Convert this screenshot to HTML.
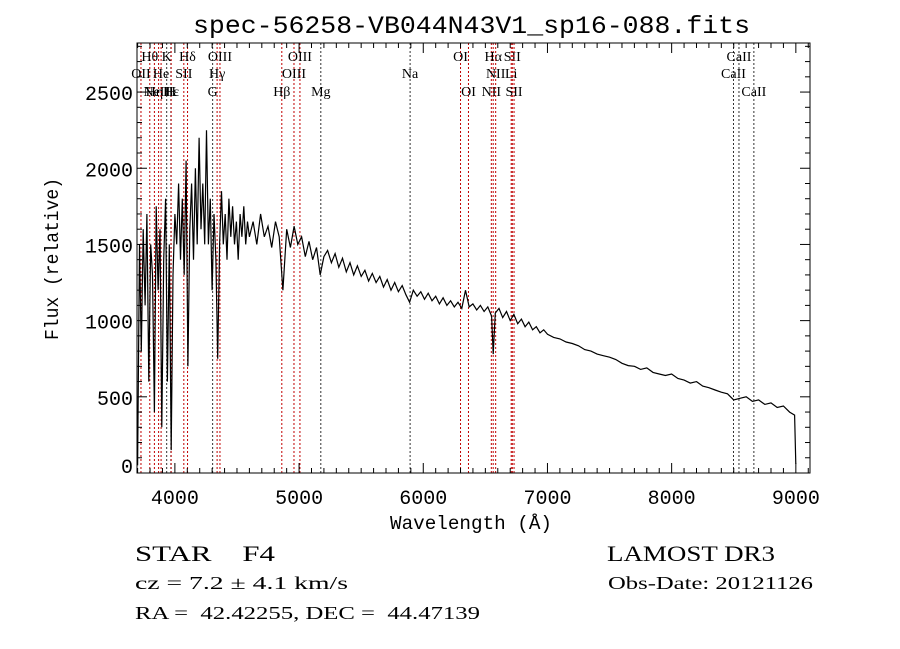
<!DOCTYPE html>
<html><head><meta charset="utf-8"><style>
html,body{margin:0;padding:0;background:#fff;}
svg{display:block;}
text{font-family:"Liberation Serif",serif;fill:#000;white-space:pre;}
.mono{font-family:"Liberation Mono",monospace;}
</style></head><body>
<svg id="chart" width="900" height="649" viewBox="0 0 900 649" xmlns="http://www.w3.org/2000/svg" xml:space="preserve">
<rect width="900" height="649" fill="#fff"/>
<text class="mono" x="193" y="33" font-size="25" textLength="557" lengthAdjust="spacingAndGlyphs">spec-56258-VB044N43V1_sp16-088.fits</text>
<g id="lines"></g>
<g id="ticks"></g>
<path id="spec" fill="none" stroke="#000" stroke-width="1.2"/>
<rect x="137" y="43" width="673" height="430" fill="none" stroke="#000" stroke-width="1"/>
<text class="mono" x="390" y="529" font-size="19" textLength="162" lengthAdjust="spacingAndGlyphs">Wavelength (Å)</text>
<text class="mono" font-size="19" transform="translate(58,340) rotate(-90)" textLength="162" lengthAdjust="spacingAndGlyphs">Flux (relative)</text>
<text x="135" y="561" font-size="22" textLength="140" lengthAdjust="spacingAndGlyphs">STAR    F4</text>
<text x="135" y="589" font-size="18" textLength="213" lengthAdjust="spacingAndGlyphs">cz = 7.2 ± 4.1 km/s</text>
<text x="135" y="619" font-size="18" textLength="345" lengthAdjust="spacingAndGlyphs">RA =  42.42255, DEC =  44.47139</text>
<text x="607" y="561" font-size="22" textLength="168" lengthAdjust="spacingAndGlyphs">LAMOST DR3</text>
<text x="608" y="589" font-size="18" textLength="205" lengthAdjust="spacingAndGlyphs">Obs-Date: 20121126</text>
</svg>
<script>
const wave=[3700,3715,3730,3745,3760,3775,3790,3805,3820,3835,3850,3865,3880,3895,3910,3925,3940,3955,3970,3985,4000,4015,4030,4045,4060,4075,4090,4105,4120,4135,4150,4165,4180,4195,4210,4225,4240,4255,4270,4285,4300,4315,4330,4345,4360,4375,4390,4405,4420,4435,4450,4465,4480,4495,4510,4525,4540,4555,4570,4585,4600,
4630,4660,4690,4720,4750,4780,4810,4840,4870,4900,4930,4960,4990,5020,5050,5080,5110,5140,5170,5200,5230,5260,5290,5320,5350,5380,5410,5440,5470,5500,5530,5560,5590,5620,5650,5680,5710,5740,5770,5800,5830,5860,5890,5920,5950,5980,6010,6040,6070,6100,6130,6160,6190,6220,6250,6280,6310,6340,6370,6400,6430,6460,6490,6520,6550,6563,6580,6610,6640,6670,6700,6730,6760,6790,6820,6850,6880,6910,6940,6970,7000,
7050,7100,7150,7200,7250,7300,7350,7400,7450,7500,7550,7600,7650,7700,7750,7800,7850,7900,7950,8000,8050,8100,8150,8200,8250,8300,8350,8400,8450,8500,8550,8600,8650,8700,8750,8800,8850,8900,8950,8990,9000];
const flux=[50,1500,800,1600,1100,1700,600,1500,1300,400,1750,1200,1600,300,1400,1800,600,1500,150,1300,1700,1500,1900,1400,1800,1300,2050,700,1600,1900,1400,2000,1500,2200,1600,1900,1500,2250,1500,1800,1200,1700,1400,750,1500,1850,1500,1700,1400,1800,1550,1750,1500,1650,1400,1700,1550,1750,1500,1650,1550,
1650,1500,1700,1550,1620,1480,1650,1550,1200,1600,1480,1620,1500,1550,1420,1520,1400,1480,1300,1420,1460,1380,1440,1350,1410,1320,1380,1300,1360,1290,1330,1260,1310,1250,1290,1220,1270,1200,1250,1190,1230,1170,1120,1200,1160,1190,1140,1180,1130,1160,1110,1150,1100,1130,1090,1120,1080,1200,1090,1110,1070,1100,1060,1090,1030,780,1050,1080,1020,1060,1000,1040,980,1010,960,990,940,960,920,940,910,
890,880,860,850,835,810,800,780,770,760,745,720,705,700,680,690,660,650,640,650,620,610,590,600,570,560,545,530,520,480,490,500,470,480,450,460,430,440,400,380,60];
const yTicks=[0,500,1000,1500,2000,2500];
const xTicks=[4000,5000,6000,7000,8000,9000];
const lineWaves=[3727,3798,3835,3869,3889,3934,3968,3970,4072,4102,4304,4340,4363,4861,4959,5007,5175,5894,6300,6364,6548,6563,6583,6708,6717,6731,8498,8542,8662];
const lineNames=["OII","Hθ","Hη","NeIII","He","K","H","Hε","SII","Hδ","G","Hγ","OIII","Hβ","OIII","OIII","Mg","Na","OI","OI","NII","Hα","NII","Li","SII","SII","CaII","CaII","CaII"];
const lineRows=[1,0,2,2,1,0,2,2,1,0,2,1,0,2,1,0,2,1,0,2,2,0,1,1,0,2,1,0,2];
const lineEmission=[1,1,1,1,1,0,0,1,1,1,0,1,1,1,1,1,0,0,1,1,1,1,1,1,1,1,0,0,0];
const X0=137,X1=810,Y0=473,Y1=43,WMIN=3695,WMAX=9114,FMIN=0,FMAX=2822;
const xs=w=>X0+(w-WMIN)/(WMAX-WMIN)*(X1-X0);
const ys=f=>Y0-(f-FMIN)/(FMAX-FMIN)*(Y0-Y1);
const NS="http://www.w3.org/2000/svg";
function mk(tag,attrs,parent){const e=document.createElementNS(NS,tag);for(const k in attrs)e.setAttribute(k,attrs[k]);parent.appendChild(e);return e;}
let d="";wave.forEach((w,i)=>{d+=(i?"L":"M")+xs(w).toFixed(1)+","+ys(flux[i]).toFixed(1);});
document.getElementById("spec").setAttribute("d",d);
const lg=document.getElementById("lines");
const rowY=[61,78,96];
lineWaves.forEach((w,i)=>{
 const x=xs(w);
 const l=mk("line",{x1:x,x2:x,y1:Y1,y2:Y0,stroke:lineEmission[i]?"#c00000":"#333","stroke-width":1,"stroke-dasharray":"2,2"},lg);
 
 
 const t=mk("text",{x:x,y:rowY[lineRows[i]],"font-size":14,"text-anchor":"middle"},lg);
 t.textContent=lineNames[i];
 
 
});
const tg=document.getElementById("ticks");
for(let w=3700;w<=9100;w+=100){const x=xs(w);const major=w%1000===0;const L=major?10:5;
 mk("line",{x1:x,x2:x,y1:Y0,y2:Y0-L,stroke:"#000"},tg);mk("line",{x1:x,x2:x,y1:Y1,y2:Y1+L,stroke:"#000"},tg);}
for(let f=0;f<=2800;f+=100){const y=ys(f);const major=f%500===0;const L=major?10:5;
 mk("line",{x1:X0,x2:X0+L,y1:y,y2:y,stroke:"#000"},tg);mk("line",{x1:X1,x2:X1-L,y1:y,y2:y,stroke:"#000"},tg);}
xTicks.forEach(v=>{const t=mk("text",{x:xs(v),y:504,"font-size":20,"text-anchor":"middle",class:"mono"},tg);t.textContent=v;
 
 });
yTicks.forEach(v=>{const t=mk("text",{x:133,y:Math.min(ys(v)+8,473),"font-size":20,"text-anchor":"end",class:"mono"},tg);t.textContent=v;
 
 });
</script>
</body></html>
